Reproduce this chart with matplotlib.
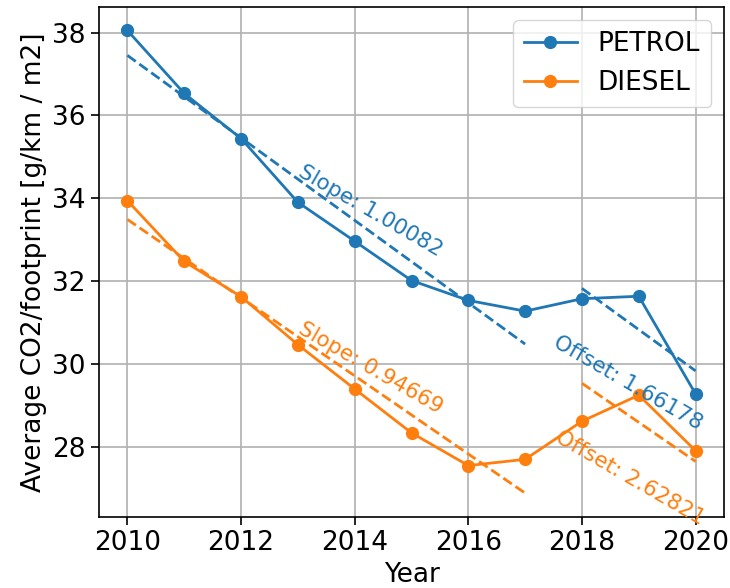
import matplotlib
matplotlib.use('Agg')
import matplotlib.pyplot as plt
import numpy as np

# data
years = np.arange(2010, 2021)
petrol = [38.05, 36.53, 35.44, 33.90, 32.96, 32.01, 31.53, 31.27, 31.57, 31.63, 29.27]
diesel = [33.94, 32.47, 31.62, 30.46, 29.39, 28.33, 27.54, 27.69, 28.61, 29.24, 27.90]
labels = ['PETROL', 'DIESEL']
slope_txt = ['Slope: 1.00082', 'Slope: 0.94669']
offset_txt = ['Offset: 1.66178', 'Offset: 2.62821']
n_fit = 8  # 2010-2017 used for the trend

BLUE = '#1f77b4'
ORANGE = '#ff7f0e'
FS = 19

fig = plt.figure(figsize=(7.3, 5.88), dpi=100)
ax = fig.add_axes([99 / 730, (588 - 517.3) / 588, 625 / 730, 510 / 588])

series = [(petrol, BLUE), (diesel, ORANGE)]
slope_pos = [(2012.99, 34.54), (2012.99, 30.75)]
offset_pos = [(2017.48, 30.43), (2017.51, 28.13)]

for i, (vals, col) in enumerate(series):
    vals = np.array(vals)
    ax.plot(years, vals, '-o', color=col, lw=2, ms=8.5, label=labels[i])

    # trend over the first years
    m, b = np.polyfit(years[:n_fit], vals[:n_fit], 1)
    xs = years[:n_fit]
    ax.plot(xs, m * xs + b, '--', color=col, lw=2)

    # same slope shifted to fit the last years
    xe = years[n_fit:]
    b2 = np.mean(vals[n_fit:] - m * xe)
    ax.plot(xe, m * xe + b2, '--', color=col, lw=2)

    ax.text(*slope_pos[i], slope_txt[i], color=col, fontsize=15.5, rotation=-30,
            rotation_mode='anchor', ha='left', va='baseline')
    ax.text(*offset_pos[i], offset_txt[i], color=col, fontsize=15.5, rotation=-30,
            rotation_mode='anchor', ha='left', va='baseline')

ax.set_xlim(2009.5, 2020.5)
ax.set_ylim(26.29, 38.61)
ax.set_xticks(np.arange(2010, 2021, 2))
ax.set_yticks(np.arange(28, 39, 2))
ax.tick_params(labelsize=FS, length=6, width=1.2)
ax.grid(True, color='#b0b0b0', lw=1.2)
for s in ax.spines.values():
    s.set_linewidth(1.2)

ax.set_xlabel('Year', fontsize=FS)
ax.set_ylabel('Average CO2/footprint [g/km / m2]', fontsize=FS)
ax.legend(loc='upper right', fontsize=FS)

fig.savefig('out.png', dpi=100)
